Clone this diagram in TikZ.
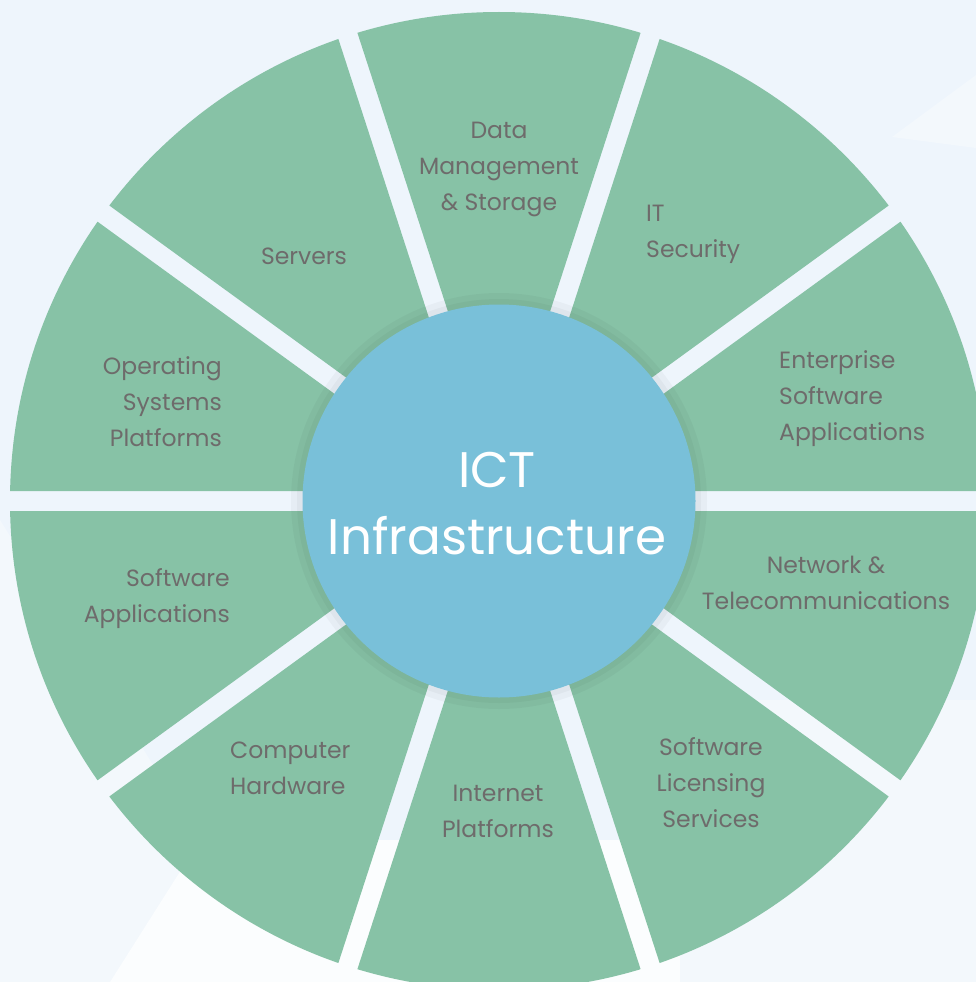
\documentclass[tikz,border=0pt]{standalone}
\usepackage{fontspec}
\setmainfont{Poppins}
\usetikzlibrary{calc}
\definecolor{bg}{HTML}{EEF5FC}
\definecolor{bglight}{HTML}{F3F8FC}
\definecolor{bgwhite}{HTML}{FBFDFE}
\definecolor{seg}{HTML}{87C2A6}
\definecolor{hub}{HTML}{79C0D9}
\definecolor{txt}{HTML}{6E6B6B}
\begin{document}
\begin{tikzpicture}[x=1pt,y=-1pt,
  lab/.style={text=txt, font=\fontsize{23.5}{36}\selectfont, inner sep=0pt},
  hubtext/.style={text=white, font=\fontsize{50}{67}\selectfont, align=center, inner sep=0pt}]
\useasboundingbox (0,0) rectangle (976,982);
% background
\fill[bg] (0,0) rectangle (976,982);
\fill[bglight] (0,520) -- (200,840) -- (110,982) -- (0,982) -- cycle;
\fill[bgwhite] (200,840) -- (110,982) -- (680,982) -- (680,840) -- cycle;
\fill[bglight] (680,700) -- (976,700) -- (976,982) -- (680,982) -- cycle;
\fill[bglight] (892,137) -- (976,75) -- (976,148) -- cycle;
% wheel
\coordinate (C) at (499,501);
\begin{scope}
  \clip (C) circle (489);
  \foreach \a in {0,36,...,324}{
    \fill[seg] ($(C)+(\a+18:32.36)$) -- ($(C)+(\a+18:32.36)+(\a:700)$)
       -- ($(C)+(\a+18:32.36)+(\a+36:700)$) -- cycle;
  }
\end{scope}
% hub shadow
\fill[black, opacity=0.03] (C) circle (208);
\fill[black, opacity=0.03] (C) circle (202);
\node[circle, fill=hub, minimum size=393pt, inner sep=0pt] (hub) at (C) {};
\node[hubtext] (hubl) at (497,504) {ICT\\Infrastructure};
% labels
\node[lab, align=center] (dms) at (499,169) {Data\\Management\\\& Storage};
\node[lab, align=center] (srv) at (304,256) {Servers};
\node[lab, align=left, anchor=west] (its) at (646,234) {IT\\Security};
\node[lab, align=left, anchor=west] (ent) at (779,399) {Enterprise\\Software\\Applications};
\node[lab, align=center] (net) at (826,583) {Network \&\\Telecommunications};
\node[lab, align=center] (lic) at (711,783) {Software\\Licensing\\Services};
\node[lab, align=center] (inp) at (498,811) {Internet\\Platforms};
\node[lab, align=left, anchor=west] (chw) at (230,768) {Computer\\Hardware};
\node[lab, align=right, anchor=east] (swa) at (230,599) {Software\\Applications};
\node[lab, align=right, anchor=east] (osp) at (222,402) {Operating\\Systems\\Platforms};
\end{tikzpicture}
\end{document}
